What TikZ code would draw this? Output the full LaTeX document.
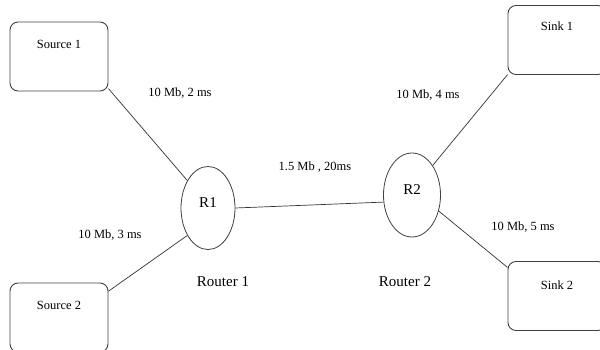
\documentclass[tikz,border=0pt]{standalone}
\usepackage{fontspec}
\setmainfont{Liberation Serif}
\usetikzlibrary{shapes.geometric}

\begin{document}
\begin{tikzpicture}[x=1pt,y=1pt,
  txt/.style={font=\fontsize{12.5}{15}\selectfont},
  hostbox/.style={draw=black!75,line width=0.9pt,rounded corners=8pt,minimum width=98pt,minimum height=69pt},
  router/.style={draw=black!75,line width=0.8pt,ellipse,minimum width=54pt,minimum height=83pt,inner sep=0pt,text depth=11pt,font=\fontsize{15}{18}\selectfont},
  rtrname/.style={font=\fontsize{15}{18}\selectfont},
  link/.style={draw=black!80,line width=0.7pt}]
\useasboundingbox (0,0) rectangle (600,349);
\clip (0,0) rectangle (600,349);

% hosts
\node[hostbox,label={[anchor=center,yshift=-23pt,txt]north:Source 1}] (src1) at (59,292.5) {};
\node[hostbox,label={[anchor=center,yshift=-23pt,txt]north:Source 2}] (src2) at (59,31.5) {};
\node[hostbox,label={[anchor=center,yshift=-21pt,txt]north:Sink 1}] (snk1) at (557,309) {};
\node[hostbox,label={[anchor=center,yshift=-24pt,txt]north:Sink 2}] (snk2) at (557,53) {};

% routers
\node[router] (r1) at (208,141) {R1};
\node[router,minimum width=57pt,minimum height=84pt] (r2) at (412,154) {R2};
\node[rtrname] (rname1) at (223,67) {Router 1};
\node[rtrname] (rname2) at (405,67) {Router 2};

% links
\draw[link] (src1.-33) -- (r1.127);
\draw[link] (src2.28) -- (r1.233);
\draw[link] (r1.east) -- (r2.194);
\draw[link] (snk1.215) -- (r2.55);
\draw[link] (snk2.150) -- (r2.-31);

\node[txt] (lab1) at (180,256) {10 Mb, 2 ms};
\node[txt] (lab2) at (110,114) {10 Mb, 3 ms};
\node[txt] (lab3) at (315,182) {1.5 Mb , 20ms};
\node[txt] (lab4) at (428,254) {10 Mb, 4 ms};
\node[txt] (lab5) at (523,122) {10 Mb, 5 ms};
\end{tikzpicture}
\end{document}
